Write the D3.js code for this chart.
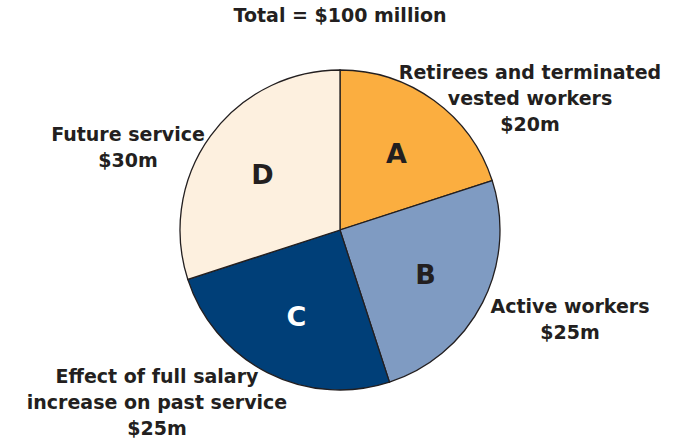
<!DOCTYPE html>
<html>
<head>
<meta charset="utf-8">
<script src="https://cdn.jsdelivr.net/npm/d3@7"></script>
<style>
	body { margin: 0; background: #fff; }
	text { font-family: "DejaVu Sans", sans-serif; font-weight: bold; fill: #231f20; }
</style>
</head>
<body>
<div id="chart"></div>
<script>
// Data
const letters = ["A", "B", "C", "D"];
const values = [20, 25, 25, 30];
const labels = [
	["Retirees and terminated", "vested workers", "$20m"],
	["Active workers", "$25m"],
	["Effect of full salary", "increase on past service", "$25m"],
	["Future service", "$30m"]
];
const colors = ["#fbae40", "#7f9bc2", "#003f78", "#fdf0df"];
const title = "Total = $100 million";

const width = 674, height = 443;
const cx = 340, cy = 230, radius = 160;

const svg = d3.select("#chart").append("svg")
	.attr("width", width).attr("height", height);

svg.append("text")
	.attr("x", cx).attr("y", 22)
	.attr("text-anchor", "middle")
	.style("font-size", "19px")
	.text(title);

const pie = d3.pie().sort(null).value((d) => d);
const arc = d3.arc().innerRadius(0).outerRadius(radius);
const arcs = pie(values);

const g = svg.append("g").attr("transform", `translate(${cx}, ${cy})`);

g.selectAll("path.slice")
	.data(arcs)
	.join("path")
	.classed("slice", true)
	.attr("d", arc)
	.attr("fill", (d, i) => colors[i])
	.attr("stroke", "#231f20")
	.attr("stroke-width", 1.3);

// slice letters
const letterArc = d3.arc().innerRadius(radius * 0.6).outerRadius(radius * 0.6);
g.selectAll("text.letter")
	.data(arcs)
	.join("text")
	.classed("letter", true)
	.attr("transform", (d) => `translate(${letterArc.centroid(d)})`)
	.attr("text-anchor", "middle")
	.attr("dy", "0.38em")
	.style("font-size", "27px")
	.style("fill", (d, i) => i === 2 ? "#fff" : "#231f20")
	.text((d, i) => letters[i]);

// outside labels: anchor points (center x, first baseline)
const labelPos = [[530, 79], [570, 313], [157, 383], [128, 141]];
svg.selectAll("text.label")
	.data(labels)
	.join("text")
	.classed("label", true)
	.attr("text-anchor", "middle")
	.style("font-size", "19px")
	.each(function (lines, i) {
		d3.select(this).selectAll("tspan")
			.data(lines)
			.join("tspan")
			.attr("x", labelPos[i][0])
			.attr("y", (l, j) => labelPos[i][1] + j * 26)
			.text((l) => l);
	});
</script>
</body>
</html>
